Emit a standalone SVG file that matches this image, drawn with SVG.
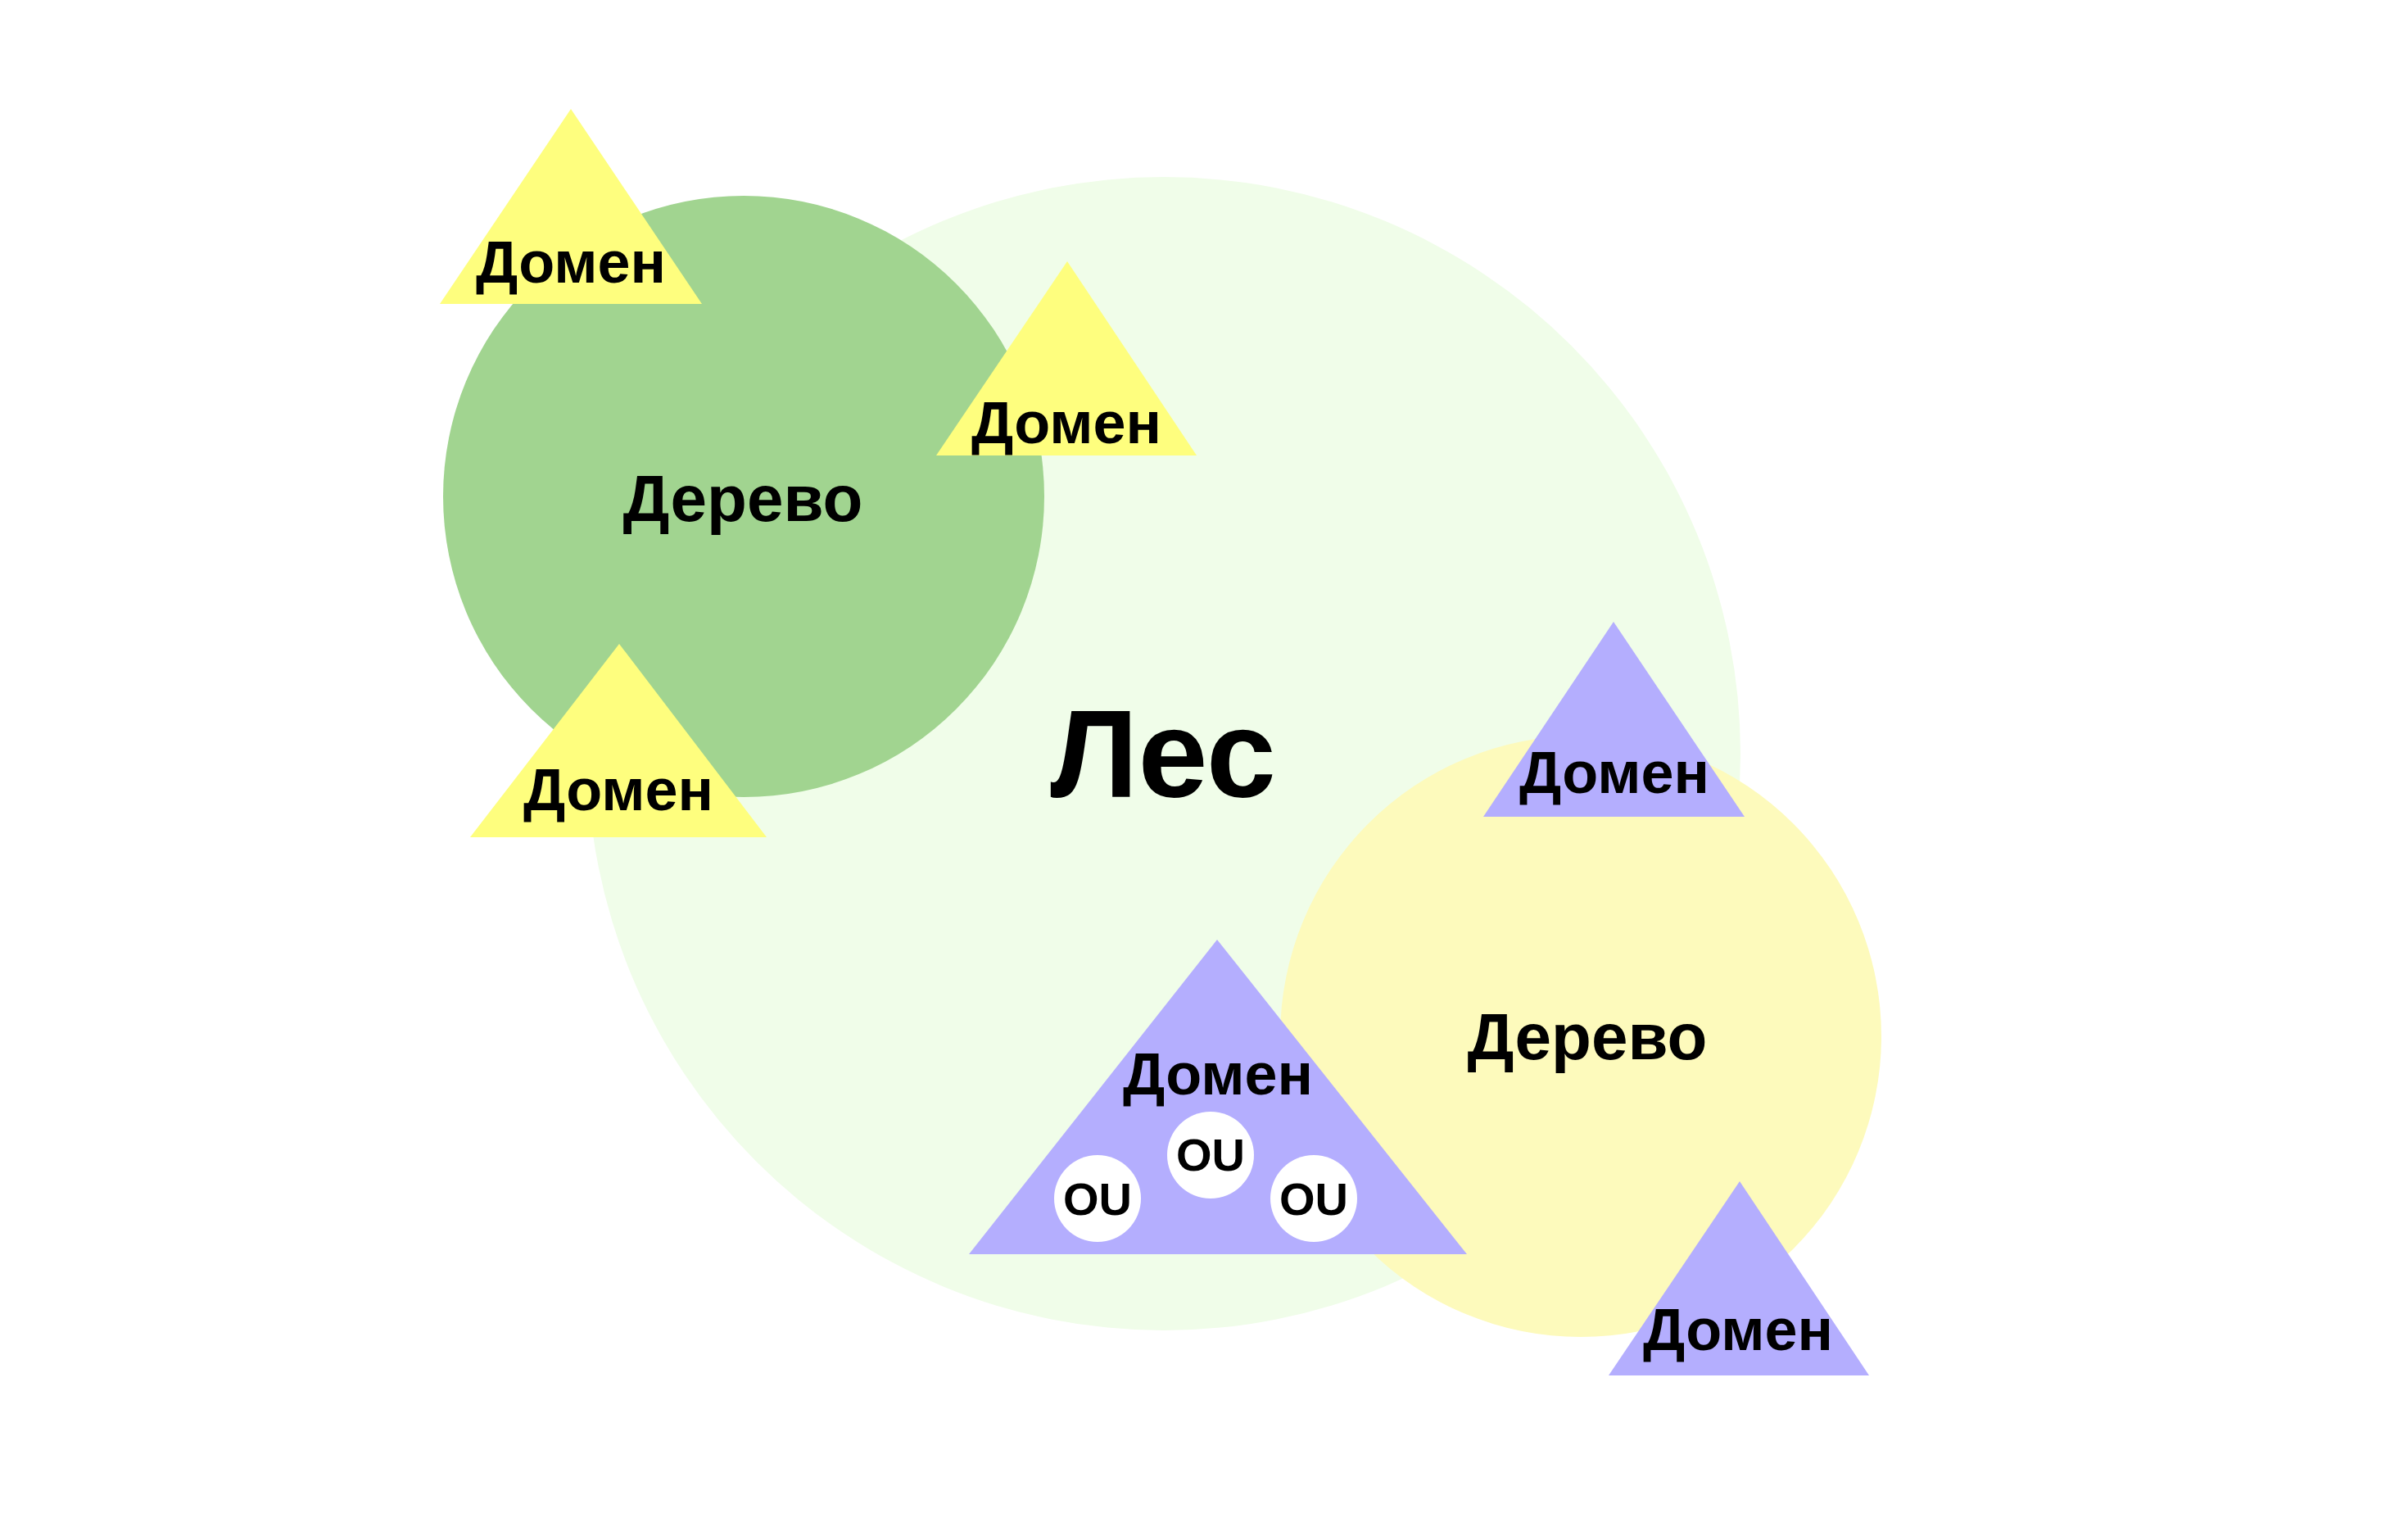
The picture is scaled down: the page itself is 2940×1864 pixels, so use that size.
<svg xmlns="http://www.w3.org/2000/svg" width="2940" height="1864" viewBox="0 0 2940 1864">
<style>
text{font-family:"Liberation Sans",Arial,sans-serif;font-weight:bold;fill:#000;text-anchor:middle}
.dom{font-size:72px}
.tree{font-size:80px}
.ou{font-size:56px}
.yel{fill:#FEFE7E}
.pur{fill:#B4AEFE}
</style>
<rect width="2940" height="1864" fill="#fff"/>
<g id="forest">
<circle cx="1421" cy="920" r="704" fill="#F0FDE9"/>
<text x="1420" y="973" style="font-size:153px">Лес</text>
</g>
<g id="tree1">
<circle cx="908" cy="606" r="367" fill="#A1D490"/>
<text class="tree" x="907" y="636">Дерево</text>
</g>
<g id="tree2">
<circle cx="1930" cy="1265" r="367" fill="#FDFABC"/>
<text class="tree" x="1938" y="1293">Дерево</text>
</g>
<g id="domain1">
<polygon class="yel" points="697,133 537,371 857,371"/>
<text class="dom" x="697" y="345">Домен</text>
</g>
<g id="domain2">
<polygon class="yel" points="1303,319 1143,556 1461,556"/>
<text class="dom" x="1302" y="541">Домен</text>
</g>
<g id="domain3">
<polygon class="yel" points="756,786 574,1022 936,1022"/>
<text class="dom" x="755" y="989">Домен</text>
</g>
<g id="domain4">
<polygon class="pur" points="1970,759 1811,997 2130,997"/>
<text class="dom" x="1971" y="968">Домен</text>
</g>
<g id="domain5">
<polygon class="pur" points="1486,1147 1183,1531 1791,1531"/>
<text class="dom" x="1487" y="1336">Домен</text>
</g>
<g id="domain6">
<polygon class="pur" points="2124,1442 1964,1679 2282,1679"/>
<text class="dom" x="2122" y="1648">Домен</text>
</g>
<g id="ou1">
<circle cx="1340" cy="1463" r="53" fill="#fff"/>
<text class="ou" x="1340" y="1483">OU</text>
</g>
<g id="ou2">
<circle cx="1478" cy="1410" r="53" fill="#fff"/>
<text class="ou" x="1478" y="1429">OU</text>
</g>
<g id="ou3">
<circle cx="1604" cy="1463" r="53" fill="#fff"/>
<text class="ou" x="1604" y="1483">OU</text>
</g>
<g id="connectors"></g>
</svg>
